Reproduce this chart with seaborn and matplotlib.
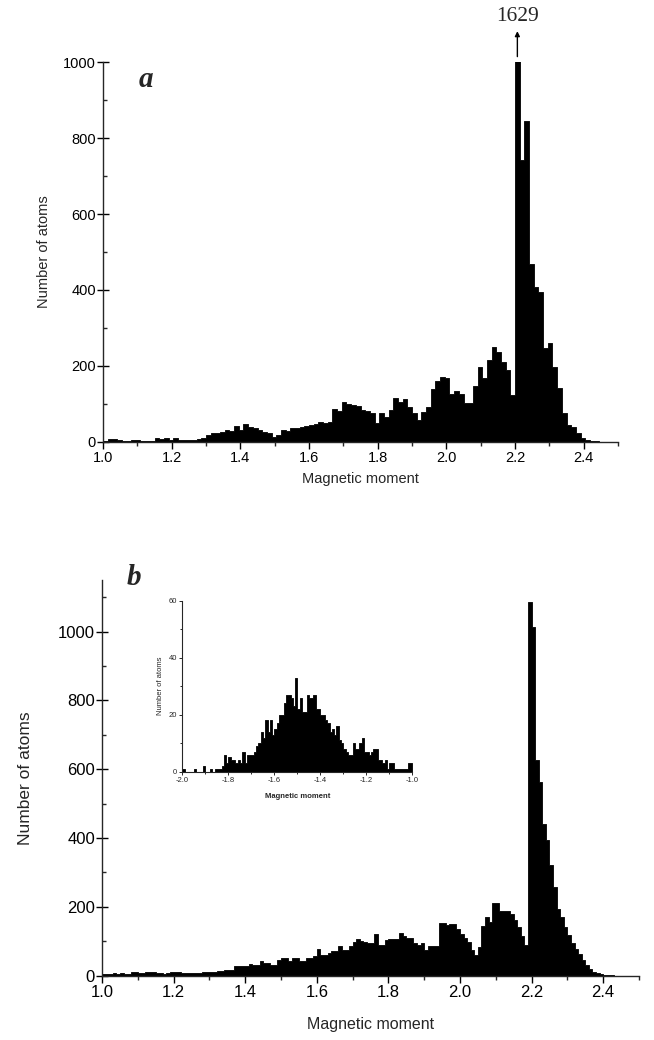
import numpy as np
import pandas as pd
import matplotlib
matplotlib.use("Agg")
import matplotlib.pyplot as plt
import seaborn as sns
from matplotlib.ticker import MultipleLocator, FormatStrFormatter

# ---------------- data ----------------
# panel a: 110 bins between 1.0 and 2.5
a_start, a_stop = 1.0, 2.5
a_counts = [2, 6, 6, 5, 3, 3, 5, 5, 3, 3,
            3, 10, 7, 11, 5, 9, 5, 4, 4, 4,
            7, 9, 18, 24, 22, 26, 31, 29, 41, 31,
            46, 40, 35, 31, 26, 22, 13, 18, 31, 28,
            35, 35, 40, 41, 44, 46, 51, 50, 53, 85,
            82, 105, 99, 97, 94, 83, 81, 75, 50, 75,
            66, 83, 114, 104, 112, 92, 75, 57, 77, 92,
            138, 160, 170, 167, 127, 134, 125, 103, 101, 147,
            198, 169, 215, 250, 237, 211, 189, 123, 1629, 742,
            844, 468, 407, 394, 246, 259, 198, 141, 75, 44,
            38, 22, 11, 4, 2, 1, 0, 0, 0, 0]
a_peak_label = "1629"

# panel b: 150 bins of 0.01 between 1.0 and 2.5
b_start, b_stop = 1.0, 2.5
b_counts = [6, 5, 6, 7, 6, 7, 6, 6, 10, 10,
            8, 8, 12, 12, 12, 7, 7, 6, 7, 10,
            10, 10, 9, 8, 8, 7, 8, 8, 10, 10,
            12, 12, 14, 15, 16, 16, 16, 27, 27, 28,
            29, 35, 30, 30, 42, 38, 37, 32, 32, 47,
            52, 52, 42, 52, 52, 44, 44, 52, 52, 57,
            78, 59, 59, 67, 72, 72, 86, 76, 76, 86,
            98, 106, 101, 98, 94, 94, 121, 89, 89, 105,
            107, 107, 107, 125, 115, 111, 111, 94, 89, 94,
            74, 86, 86, 87, 152, 152, 147, 149, 149, 137,
            120, 110, 99, 74, 60, 84, 144, 171, 157, 210,
            210, 188, 188, 187, 178, 163, 142, 116, 89, 1086,
            1012, 627, 562, 442, 393, 321, 258, 195, 171, 142,
            118, 94, 77, 63, 45, 31, 21, 12, 9, 5,
            2, 1, 1, 0, 0, 0, 0, 0, 0, 0]

# inset: 100 bins of 0.01 between -2.0 and -1.0
in_start, in_stop = -2.0, -1.0
in_counts = [1, 0, 0, 0, 0, 1, 0, 0, 0, 2,
             0, 0, 1, 0, 1, 1, 1, 2, 6, 3,
             5, 4, 4, 3, 4, 3, 7, 3, 6, 6,
             6, 7, 9, 10, 14, 12, 18, 14, 18, 13,
             15, 17, 20, 20, 24, 27, 27, 26, 23, 33,
             22, 26, 21, 21, 27, 26, 26, 27, 22, 22,
             20, 20, 18, 17, 14, 15, 13, 16, 11, 10,
             8, 7, 6, 6, 10, 8, 8, 10, 12, 7,
             7, 6, 7, 8, 8, 4, 4, 3, 4, 1,
             3, 3, 1, 1, 1, 1, 1, 1, 3, 3]

x_label = "Magnetic moment"
y_label = "Number of atoms"

# ---------------- style ----------------
sns.set_style("ticks")
plt.rcParams["font.family"] = ["Liberation Sans", "DejaVu Sans"]
plt.rcParams["axes.linewidth"] = 1.0

fig = plt.figure(figsize=(6.54, 10.4), dpi=100)


def draw_hist(ax, start, stop, counts):
    n = len(counts)
    edges = np.linspace(start, stop, n + 1)
    centers = (edges[:-1] + edges[1:]) / 2
    df = pd.DataFrame({"moment": centers, "count": np.asarray(counts, float)})
    sns.histplot(data=df, x="moment", weights="count",
                 bins=[float(e) for e in edges], ax=ax,
                 element="step", fill=True, color="black", alpha=1,
                 linewidth=0.6, edgecolor="black")
    return edges


def style_axes(ax, fs):
    sns.despine(ax=ax)
    ax.tick_params(axis="x", which="major", direction="out", length=5, width=1,
                   labelsize=fs, pad=2, colors="black")
    ax.tick_params(axis="x", which="minor", direction="out", length=3, width=1)
    ax.tick_params(axis="y", which="major", direction="inout", length=8, width=1,
                   labelsize=fs, pad=1, colors="black")
    ax.tick_params(axis="y", which="minor", direction="in", length=3, width=1)
    ax.set_facecolor("white")


# ---------------- panel a ----------------
axA = fig.add_axes([0.1575, 0.5753, 0.945 - 0.1575, 0.9401 - 0.5753])
edgesA = draw_hist(axA, a_start, a_stop, a_counts)
axA.set_xlim(1.0, 2.5)
axA.set_ylim(0, 1000)
axA.xaxis.set_major_locator(MultipleLocator(0.2))
axA.xaxis.set_minor_locator(MultipleLocator(0.1))
axA.yaxis.set_major_locator(MultipleLocator(200))
axA.yaxis.set_minor_locator(MultipleLocator(100))
axA.xaxis.set_major_formatter(FormatStrFormatter("%.1f"))
style_axes(axA, 10.5)
axA.set_xlabel(x_label, fontsize=10.5, labelpad=5)
axA.set_ylabel(y_label, fontsize=10.5, labelpad=9)
axA.text(0.07, 0.99, "a", transform=axA.transAxes, fontsize=21,
         fontweight="bold", fontstyle="italic", family="Liberation Serif",
         ha="left", va="top")
peak_idx = int(np.argmax(a_counts))
peak_x = (edgesA[peak_idx] + edgesA[peak_idx + 1]) / 2
axA.annotate("", xy=(peak_x, 1082), xytext=(peak_x, 1015),
             arrowprops=dict(arrowstyle="-|>", lw=1.0, color="black",
                             mutation_scale=7, shrinkA=0, shrinkB=0),
             annotation_clip=False)
axA.text(peak_x, 1120, a_peak_label, ha="center", va="center", fontsize=15.5,
         family="Liberation Serif", clip_on=False)

# ---------------- panel b ----------------
axB = fig.add_axes([0.156, 0.0618, 0.977 - 0.156, 0.4423 - 0.0618])
draw_hist(axB, b_start, b_stop, b_counts)
axB.set_xlim(1.0, 2.5)
axB.set_ylim(0, 1150)
axB.xaxis.set_major_locator(MultipleLocator(0.2))
axB.xaxis.set_minor_locator(MultipleLocator(0.1))
axB.yaxis.set_major_locator(MultipleLocator(200))
axB.yaxis.set_minor_locator(MultipleLocator(100))
axB.xaxis.set_major_formatter(FormatStrFormatter("%.1f"))
style_axes(axB, 12)
axB.set_xlabel(x_label, fontsize=11.5, labelpad=12)
axB.set_ylabel(y_label, fontsize=12.5, labelpad=18)
axB.text(0.045, 1.04, "b", transform=axB.transAxes, fontsize=21,
         fontweight="bold", fontstyle="italic", family="Liberation Serif",
         ha="left", va="top", clip_on=False)

# ---------------- inset ----------------
axI = fig.add_axes([0.279, 0.258, 0.3515, 0.1643])
draw_hist(axI, in_start, in_stop, in_counts)
axI.set_xlim(-2.0, -1.0)
axI.set_ylim(0, 60)
axI.xaxis.set_major_locator(MultipleLocator(0.2))
axI.xaxis.set_minor_locator(MultipleLocator(0.1))
axI.yaxis.set_major_locator(MultipleLocator(20))
axI.yaxis.set_minor_locator(MultipleLocator(10))
axI.xaxis.set_major_formatter(FormatStrFormatter("%.1f"))
sns.despine(ax=axI)
axI.spines["left"].set_linewidth(0.8)
axI.spines["bottom"].set_linewidth(0.8)
axI.tick_params(axis="both", which="major", direction="out", length=2.5,
                width=0.7, labelsize=5.5, pad=1.5)
axI.tick_params(axis="both", which="minor", direction="out", length=1.5,
                width=0.7)
axI.set_xlabel(x_label, fontsize=5.5, labelpad=6, fontweight="bold")
axI.set_ylabel(y_label, fontsize=5.5, labelpad=3)
axI.patch.set_alpha(0)

fig.savefig("out.png", dpi=100, facecolor="white")
